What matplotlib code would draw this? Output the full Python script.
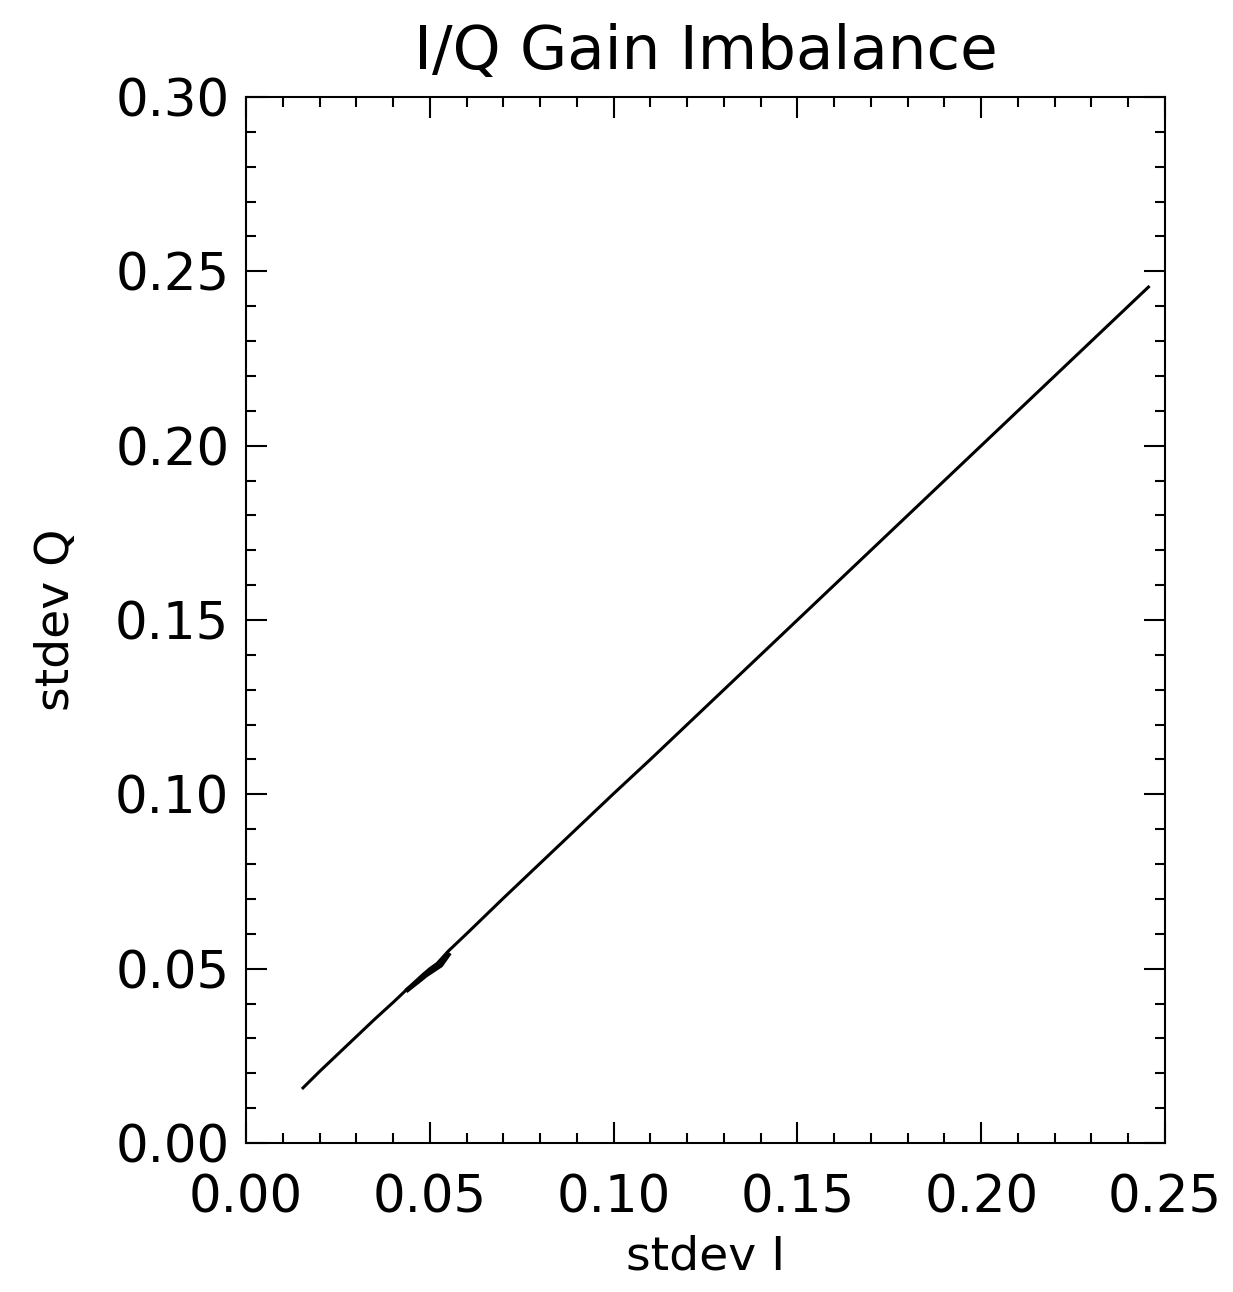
import matplotlib
matplotlib.use("Agg")
import matplotlib.pyplot as plt
from matplotlib.ticker import MultipleLocator

# stdev I / stdev Q pairs
stdev_i = [0.0155, 0.020, 0.025, 0.030, 0.035, 0.040, 0.045, 0.048, 0.050,
           0.052, 0.055, 0.060, 0.070, 0.080, 0.090, 0.100, 0.110, 0.120,
           0.130, 0.140, 0.150, 0.160, 0.170, 0.180, 0.190, 0.200, 0.210,
           0.220, 0.230, 0.240, 0.2455]
stdev_q = [0.0158, 0.0205, 0.0255, 0.0305, 0.0355, 0.0403, 0.0453, 0.0482, 0.0500,
           0.0515, 0.0550, 0.0600, 0.0702, 0.0802, 0.0902, 0.1002, 0.1100, 0.1200,
           0.1300, 0.1400, 0.1500, 0.1600, 0.1700, 0.1800, 0.1900, 0.2000, 0.2100,
           0.2200, 0.2300, 0.2400, 0.2455]
# small cluster around 0.05 that thickens the trace
blob_i = [0.044, 0.047, 0.049, 0.051, 0.053, 0.055]
blob_q = [0.0440, 0.0465, 0.0482, 0.0496, 0.0510, 0.0540]

fig = plt.figure(figsize=(12.33, 12.92), dpi=100)
ax = fig.add_axes([246/1233, 1 - 1143/1292, 919/1233, 1046/1292])

ax.plot(stdev_i, stdev_q, color="black", lw=2.2)
ax.plot(blob_i, blob_q, color="black", lw=3.5)

ax.set_xlim(0, 0.25)
ax.set_ylim(0, 0.30)
ax.xaxis.set_major_locator(MultipleLocator(0.05))
ax.xaxis.set_minor_locator(MultipleLocator(0.01))
ax.yaxis.set_major_locator(MultipleLocator(0.05))
ax.yaxis.set_minor_locator(MultipleLocator(0.01))
ax.xaxis.set_major_formatter(lambda v, p: f"{v:.2f}")
ax.yaxis.set_major_formatter(lambda v, p: f"{v:.2f}")

ax.tick_params(which="both", direction="in", top=True, right=True,
               width=1.5, colors="black")
ax.tick_params(which="major", length=15, labelsize=37)
ax.tick_params(axis="x", which="major", pad=22)
ax.tick_params(axis="y", which="major", pad=12)
ax.tick_params(which="minor", length=7.5)
for s in ax.spines.values():
    s.set_linewidth(1.5)

ax.set_xlabel("stdev I", fontsize=34, labelpad=8)
ax.set_ylabel("stdev Q", fontsize=34, labelpad=26)
ax.set_title("I/Q Gain Imbalance", fontsize=44, pad=20)

fig.savefig("out.png", dpi=100)
